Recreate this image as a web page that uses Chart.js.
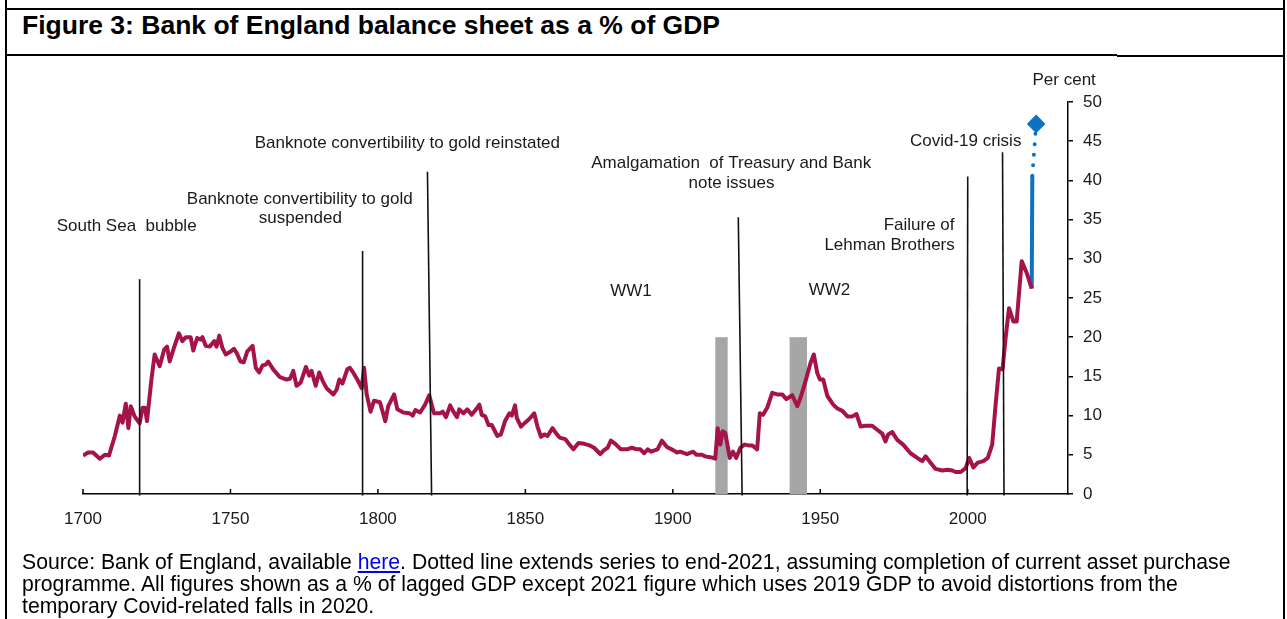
<!DOCTYPE html>
<html>
<head>
<meta charset="utf-8">
<script src="https://cdn.jsdelivr.net/npm/chart.js@4.4.1/dist/chart.umd.min.js"></script>
<style>
  body { margin: 0; background: #fff; font-family: "Liberation Sans", Arial, sans-serif; }
  #page { position: relative; width: 1287px; height: 619px; overflow: hidden; }
  .rule { position: absolute; background: #000; }
  #title { position: absolute; left: 22px; top: 10px; font-weight: bold; font-size: 26.5px; color: #000; white-space: nowrap; }
  #source { position: absolute; left: 22px; top: 551px; font-size: 21.2px; line-height: 22px; white-space: nowrap; color: #000; }
  #source a { color: #0000ee; }
  #chart { position: absolute; left: 0; top: 0; }
</style>
</head>
<body>
<div id="page">
  <div class="rule" style="left:5px;top:0;width:2px;height:619px"></div>
  <div class="rule" style="left:1283px;top:0;width:2px;height:619px"></div>
  <div class="rule" style="left:5px;top:8px;width:1280px;height:2px"></div>
  <div class="rule" style="left:5px;top:54px;width:1112px;height:1.5px"></div>
  <div class="rule" style="left:1117px;top:55px;width:168px;height:2px"></div>
  <div id="title">Figure 3: Bank of England balance sheet as a % of GDP</div>
  <canvas id="chart" width="1287" height="619"></canvas>
  <div id="source">Source: Bank of England, available <a href="#">here</a>. Dotted line extends series to end-2021, assuming completion of current asset purchase<br>programme. All figures shown as a % of lagged GDP except 2021 figure which uses 2019 GDP to avoid distortions from the<br>temporary Covid-related falls in 2020.</div>
</div>

<script>
// ---- data ----
const years = [1700.0,1701.7,1703.4,1705.7,1707.4,1708.8,1710.8,1712.5,1713.4,1714.5,1715.4,1716.2,1717.5,1719.2,1720.2,1721.0,1721.7,1723.2,1724.3,1726.0,
  1727.5,1728.5,1729.4,1730.8,1732.5,1733.7,1734.9,1736.5,1737.4,1738.7,1739.9,1740.5,1741.6,1743.0,1744.5,1745.3,1746.2,1747.3,1748.4,1749.8,
  1751.2,1752.1,1753.4,1754.5,1755.7,1757.5,1758.6,1759.7,1760.9,1762.0,1762.8,1764.5,1766.8,1769.0,1770.2,1771.3,1772.4,1773.8,1775.6,1776.7,
  1777.5,1778.9,1780.1,1781.3,1782.6,1784.9,1786.0,1786.9,1788.0,1789.6,1790.5,1791.6,1793.0,1794.5,1795.3,1796.2,1797.5,1798.7,1800.7,1802.5,
  1803.5,1805.5,1806.6,1808.6,1810.7,1811.8,1812.7,1814.3,1816.0,1817.4,1819.0,1821.1,1822.0,1823.1,1824.5,1825.6,1826.8,1827.6,1829.0,1830.3,
  1831.8,1833.3,1834.4,1835.2,1836.4,1837.5,1838.6,1840.5,1841.7,1843.1,1844.6,1845.4,1846.5,1847.1,1848.5,1849.9,1851.4,1853.0,1854.1,1855.3,
  1856.4,1857.5,1859.2,1860.5,1861.6,1863.5,1865.2,1866.3,1868.0,1870.0,1871.8,1873.3,1875.4,1876.7,1877.9,1879.0,1880.5,1882.4,1884.5,1886.1,
  1887.8,1889.0,1890.3,1891.5,1892.6,1894.8,1896.3,1898.0,1900.1,1901.4,1902.5,1904.8,1906.9,1908.0,1909.9,1911.0,1912.7,1913.8,1914.4,1915.2,
  1916.1,1916.9,1917.8,1919.3,1920.4,1921.5,1922.9,1924.3,1925.7,1926.9,1928.6,1929.5,1930.6,1932.0,1933.7,1935.4,1937.1,1938.5,1940.5,1942.2,
  1943.5,1945.0,1946.7,1947.8,1949.0,1949.9,1951.0,1952.4,1954.4,1955.8,1957.5,1959.2,1960.9,1962.3,1963.7,1965.4,1967.6,1969.3,1971.0,1972.1,
  1973.0,1974.4,1976.1,1978.1,1980.6,1982.9,1984.6,1985.7,1987.4,1989.1,1991.4,1993.1,1994.8,1995.9,1997.6,1999.3,2000.5,2001.9,2003.4,2005.3,
  2006.8,2008.3,2009.5,2010.6,2011.8,2012.9,2014.0,2015.5,2016.6,2018.3,2020.0,2021.7];
const balance = [4.9,5.3,5.3,4.5,5.0,4.9,7.4,10.0,9.1,11.5,8.4,11.2,9.9,9.0,11.0,11.0,9.3,14.6,17.8,16.3,
  18.4,18.8,16.9,18.6,20.5,19.5,20.0,20.0,18.3,19.9,19.7,20.0,18.9,18.8,19.5,18.8,20.2,18.6,17.8,18.1,
  18.5,18.0,16.9,16.8,18.2,18.9,16.1,15.5,16.4,16.5,16.9,15.9,14.9,14.6,14.7,15.7,13.8,14.2,16.2,15.1,
  15.7,13.8,15.5,14.4,13.5,12.7,13.3,14.6,14.1,15.9,16.1,15.5,14.6,13.5,16.1,12.7,10.5,11.9,11.7,9.3,
  11.2,12.7,10.8,10.4,10.3,10.0,10.7,10.4,11.4,12.6,10.3,10.3,10.5,9.8,11.3,10.5,9.8,10.8,10.3,10.8,
  10.1,10.8,11.4,10.1,9.9,8.8,8.8,7.4,7.6,9.3,10.3,10.0,11.3,9.7,8.6,9.1,9.6,10.3,8.6,7.3,
  7.6,7.4,8.4,7.7,7.2,7.0,6.2,5.7,6.5,6.4,6.2,5.9,5.1,5.6,5.9,6.8,6.4,5.7,5.7,5.9,
  5.7,5.7,5.2,5.7,5.4,5.7,6.8,6.0,5.6,5.3,5.4,5.1,5.4,5.0,5.0,4.8,4.7,4.6,4.5,8.4,
  6.3,8.0,7.8,4.6,5.4,4.6,5.9,6.3,6.2,6.2,5.7,10.3,10.1,11.0,12.9,12.7,12.7,12.1,12.6,11.2,
  12.5,14.4,16.7,17.8,15.4,14.6,14.6,12.5,11.4,10.9,10.6,9.9,9.9,10.2,8.6,8.7,8.7,8.2,7.7,6.7,
  7.6,7.9,6.9,6.3,5.2,4.6,4.2,4.8,4.0,3.2,3.0,3.1,3.0,2.8,2.8,3.3,4.6,3.4,4.0,4.2,
  4.6,6.3,11.6,16.0,15.9,20.1,23.7,22.0,22.0,29.7,28.2,26.2];

// 2020-21 extension (solid) and assumed end-2021 figure (dotted)
const extYears = [2021.7, 2021.9];
const extValues = [26.2, 40.6];
const projYears = [2021.9, 2023.2];
const projValues = [40.6, 47.2];

const xTicks = [1700, 1750, 1800, 1850, 1900, 1950, 2000];

// shaded war periods
const warStart = [1914.4, 1939.6];
const warEnd = [1918.6, 1945.5];
const warTop = 20;

// event lines (drawn by hand in the original, some lean a little)
const eventTopYear = [1719.2, 1794.8, 1816.8, 1922.2, 2000.0, 2011.8];
const eventBottomYear = [1719.2, 1794.8, 1818.2, 1923.5, 1999.8, 2012.3];
const eventTop = [27.4, 31.0, 41.1, 35.3, 40.5, 43.6];

// annotation text
const noteText = ['South Sea  bubble', 'Banknote convertibility to gold', 'suspended',
  'Banknote convertibility to gold reinstated', 'Amalgamation  of Treasury and Bank', 'note issues',
  'WW1', 'WW2', 'Failure of', 'Lehman Brothers', 'Covid-19 crisis', 'Per cent'];
const noteYear = [1714.8, 1773.5, 1773.7, 1810.0, 1919.8, 1919.9, 1885.8, 1953.1, 1983.5, 1973.5, 1999.3, 2032.7];
const noteValue = [34.15, 37.65, 35.15, 44.75, 42.15, 39.65, 25.85, 25.95, 34.25, 31.75, 44.95, 52.75];

const FONT = '"Liberation Sans", Arial, sans-serif';

const toPoints = (xs, ys) => xs.map((x, i) => ({ x: x, y: ys[i] }));

// ---- extras drawn through the chart scales ----
const extras = {
  id: 'extras',
  beforeDatasetsDraw(chart) {
    const { ctx, scales: { x, y } } = chart;
    ctx.save();
    ctx.fillStyle = '#a6a6a6';
    warStart.forEach((s, i) => {
      const l = x.getPixelForValue(s), r = x.getPixelForValue(warEnd[i]);
      const t = y.getPixelForValue(warTop), b = y.getPixelForValue(0);
      ctx.fillRect(l, t, r - l, b - t);
    });
    ctx.restore();
  },
  afterDatasetsDraw(chart) {
    const { ctx, scales: { x, y } } = chart;
    ctx.save();
    ctx.strokeStyle = '#111';
    ctx.lineWidth = 1.6;
    eventTop.forEach((v, i) => {
      ctx.beginPath();
      ctx.moveTo(x.getPixelForValue(eventTopYear[i]), y.getPixelForValue(v));
      ctx.lineTo(x.getPixelForValue(eventBottomYear[i]), y.getPixelForValue(-0.2));
      ctx.stroke();
    });
    // inward tick marks on the year axis
    ctx.lineWidth = 1.5;
    ctx.strokeStyle = '#000';
    const base = y.getPixelForValue(0);
    xTicks.forEach(t => {
      const px = x.getPixelForValue(t);
      ctx.beginPath();
      ctx.moveTo(px, base);
      ctx.lineTo(px, base - 5);
      ctx.stroke();
    });
    ctx.restore();
  },
  afterDraw(chart) {
    const { ctx, scales: { x, y } } = chart;
    ctx.save();
    ctx.font = '17px ' + FONT;
    ctx.fillStyle = '#1a1a1a';
    ctx.textAlign = 'center';
    ctx.textBaseline = 'middle';
    noteText.forEach((t, i) => {
      ctx.fillText(t, x.getPixelForValue(noteYear[i]), y.getPixelForValue(noteValue[i]));
    });
    ctx.restore();
  }
};

new Chart(document.getElementById('chart'), {
  type: 'line',
  data: {
    datasets: [
      {
        data: toPoints(years, balance),
        borderColor: '#a6134a',
        borderWidth: 4,
        borderJoinStyle: 'round',
        pointRadius: 0,
        tension: 0
      },
      {
        data: toPoints(extYears, extValues),
        borderColor: '#0b72c4',
        borderWidth: 4,
        pointRadius: 0
      },
      {
        data: toPoints(projYears, projValues),
        borderColor: '#0b72c4',
        borderWidth: 4,
        borderCapStyle: 'round',
        borderDash: [0, 10.5],
        pointStyle: 'rectRot',
        pointRadius: [0, 6.5],
        pointBackgroundColor: '#0b72c4',
        pointBorderColor: '#0b72c4',
        clip: false
      }
    ]
  },
  options: {
    responsive: false,
    animation: false,
    layout: { padding: { left: 83, top: 102, right: 159, bottom: 85 } },
    plugins: { legend: { display: false }, tooltip: { enabled: false } },
    scales: {
      x: {
        type: 'linear',
        min: 1700,
        max: 2034,
        afterBuildTicks: s => { s.ticks = xTicks.map(v => ({ value: v })); },
        afterFit: s => { s.height = 40; },
        grid: { drawOnChartArea: false, drawTicks: false },
        border: { display: true, color: '#000', width: 1.5 },
        ticks: { padding: 15, maxRotation: 0, color: '#1a1a1a', font: { family: FONT, size: 17 },
                 callback: v => String(v) }
      },
      y: {
        position: 'right',
        min: 0,
        max: 50,
        afterFit: s => { s.width = 60; },
        grid: { drawOnChartArea: false, drawTicks: true, tickLength: 5, color: '#000', lineWidth: 1.5 },
        border: { display: true, color: '#000', width: 1.5 },
        ticks: { stepSize: 5, padding: 10, color: '#1a1a1a', font: { family: FONT, size: 17 } }
      }
    }
  },
  plugins: [extras]
});
</script>
</body>
</html>
